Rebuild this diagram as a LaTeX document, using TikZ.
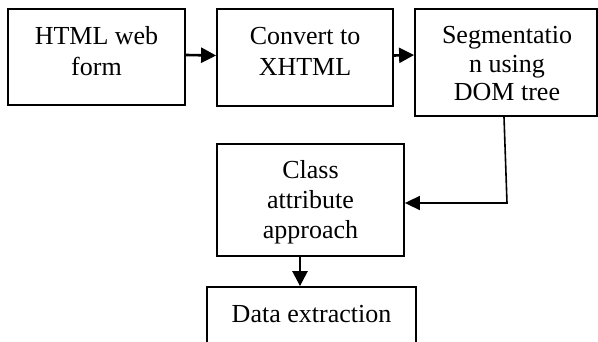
\documentclass[tikz,border=0pt]{standalone}
\usepackage{fontspec}
\setmainfont{Liberation Serif}
\usetikzlibrary{arrows.meta,calc}
\begin{document}
\begin{tikzpicture}[x=1pt,y=-1pt,
  box/.style={draw,line width=1.8pt,inner sep=0pt},
  txt/.style={inner sep=0pt,align=center,anchor=base,
    font=\fontsize{26}{#1}\selectfont},
  txt/.default=30,
  arr/.style={line width=2.6pt,-{Triangle[length=15pt,width=15pt]}},
  conn/.style={line width=1.6pt,-{Triangle[length=15pt,width=14pt]}}]
\useasboundingbox (0,0) rectangle (598,342);
\clip (0,0) rectangle (598,342);
% process boxes
\node[box,minimum width=177pt,minimum height=96pt] (b1) at (96.5,57) {};
\node[box,minimum width=176pt,minimum height=97pt] (b2) at (305,57.5) {};
\node[box,minimum width=182pt,minimum height=107pt] (b3) at (506,62.5) {};
\node[box,minimum width=187pt,minimum height=112pt] (b4) at (310.5,200) {};
\node[box,minimum width=209pt,minimum height=73pt] (b5) at (311.5,323.5) {};
% box labels (anchored at the baseline of their last line)
\node[txt=31] (t1) at (96.5,76) {HTML web\\form};
\node[txt=31] (t2) at (305,76) {Convert to\\XHTML};
\node[txt=28.5] (t3) at (507,101) {Segmentatio\\n using\\DOM tree};
\node[txt=30] (t4) at (310.5,239) {Class\\attribute\\approach};
\node[txt] (t5) at (311.5,323) {Data extraction};
% connectors
\coordinate (c1) at (507,203);
\draw[arr] ($(b1.east)+(0,-2)$) -- ($(b2.west)+(0,-2)$);
\draw[arr] ($(b2.east)+(0,-2)$) -- ($(b3.west)+(0,-7.5)$);
\draw[conn] ($(b3.south)+(-2,0)$) -- (c1) -- ($(b4.east)+(0,3)$);
\draw[arr] ($(b4.south)+(-10.5,0)$) -- ($(b5.north)+(-11.5,0)$);
\end{tikzpicture}
\end{document}
